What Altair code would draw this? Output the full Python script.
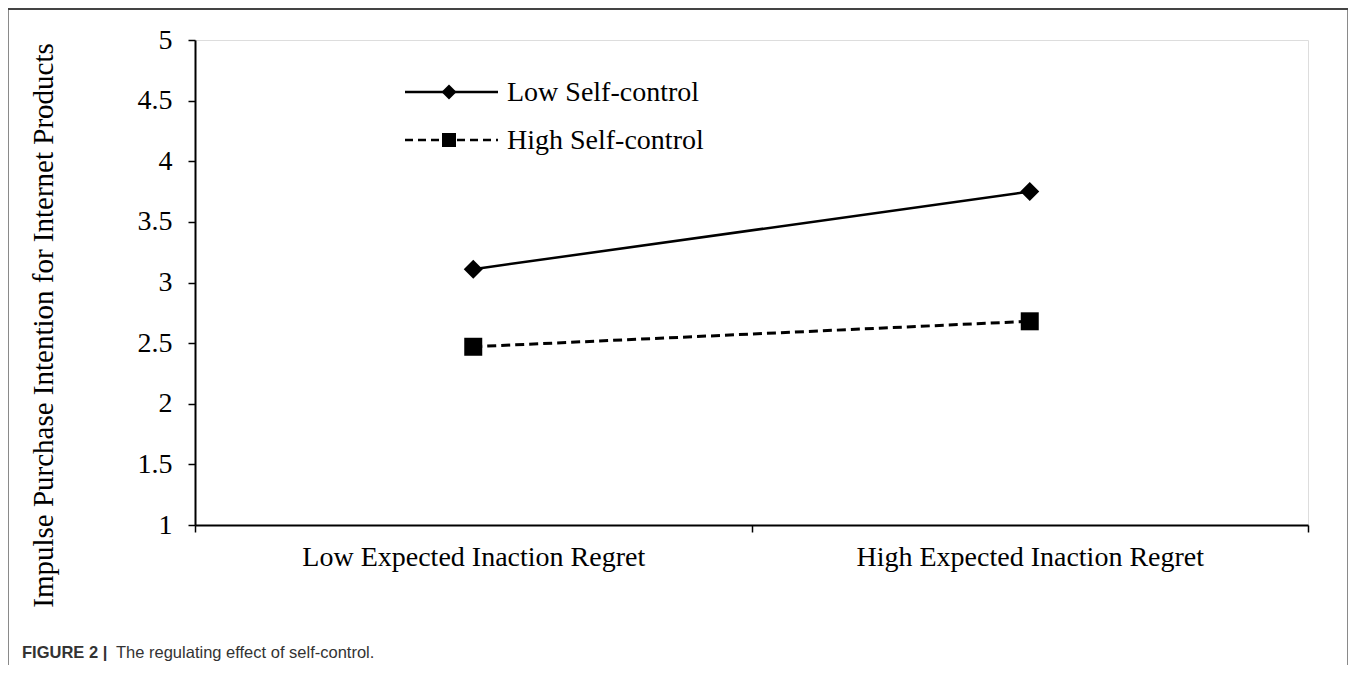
import altair as alt
import pandas as pd

categories = ["Low Expected Inaction Regret", "High Expected Inaction Regret"]
series = ["Low Self-control", "High Self-control"]
low_values = [3.11, 3.75]
high_values = [2.47, 2.68]
y_ticks = [1, 1.5, 2, 2.5, 3, 3.5, 4, 4.5, 5]
y_title = "Impulse Purchase Intention for Internet Products"
caption_bold = "FIGURE 2 |"
caption_text = "The regulating effect of self-control."

rows = []
for i, c in enumerate(categories):
    rows.append({"cat": c, "pos": i + 0.5, "series": series[0], "value": low_values[i]})
    rows.append({"cat": c, "pos": i + 0.5, "series": series[1], "value": high_values[i]})
df = pd.DataFrame(rows)

SERIF = "Liberation Serif"
FS = 28

label_expr = " : ".join(
    [f"datum.value == {i + 0.5} ? '{c}'" for i, c in enumerate(categories)] + ["''"]
)

x_enc = alt.X(
    "pos:Q",
    scale=alt.Scale(domain=[0, len(categories)], nice=False, zero=False),
    axis=alt.Axis(
        values=[0, 0.5, 1, 1.5, 2],
        labelExpr=label_expr,
        title=None,
        grid=False,
        domainColor="black",
        domainWidth=2,
        tickColor="black",
        tickWidth=1.5,
        tickSize=7,
        tickOpacity={"condition": {"test": "datum.value % 1 != 0", "value": 0}, "value": 1},
        labelFont=SERIF,
        labelFontSize=FS,
        labelColor="black",
        labelPadding=11,
        labelLimit=1000,
        labelOverlap=False,
        labelFlush=False,
    ),
)
y_enc = alt.Y(
    "value:Q",
    scale=alt.Scale(domain=[1, 5], nice=False, zero=False),
    axis=alt.Axis(
        values=y_ticks,
        format="~g",
        title=y_title,
        titleFont=SERIF,
        titleFontSize=29,
        titleFontWeight="normal",
        titleColor="black",
        titleX=-152,
        titleY=285,
        titleAngle=270,
        titleAlign="center",
        titleBaseline="middle",
        titleLimit=1000,
        grid=False,
        domainColor="black",
        domainWidth=2,
        tickColor="black",
        tickWidth=1.5,
        tickSize=7,
        labelFont=SERIF,
        labelFontSize=FS,
        labelColor="black",
        labelPadding=16,
    ),
)

base = alt.Chart(df)
low_df = base.transform_filter(alt.datum.series == series[0])
high_df = base.transform_filter(alt.datum.series == series[1])

line_low = low_df.mark_line(color="black", strokeWidth=2.5).encode(x=x_enc, y=y_enc)
line_high = high_df.mark_line(color="black", strokeWidth=3, strokeDash=[9, 5]).encode(x=x_enc, y=y_enc)
pt_low = low_df.mark_point(shape="diamond", filled=True, color="black", size=361, opacity=1).encode(x=x_enc, y=y_enc)
pt_high = high_df.mark_point(shape="square", filled=True, color="black", size=324, opacity=1).encode(x=x_enc, y=y_enc)

# legend (decoration, pixel positions relative to plot area)
one = alt.Chart(pd.DataFrame({"a": [0]}))
leg = []
for k, (name, dash, shape, size) in enumerate(
    [(series[0], [1, 0], "diamond", 225), (series[1], [8, 5], "square", 196)]
):
    yy = 52 + k * 48
    leg.append(one.mark_rule(color="black", strokeWidth=2.5, strokeDash=dash).encode(
        x=alt.value(210), x2=alt.value(303), y=alt.value(yy)))
    leg.append(one.mark_point(shape=shape, filled=True, color="black", size=size, opacity=1).encode(
        x=alt.value(254), y=alt.value(yy)))
    leg.append(one.mark_text(text=name, font=SERIF, fontSize=FS, align="left", baseline="middle", color="black").encode(
        x=alt.value(312), y=alt.value(yy + 1)))

# figure frame and caption
frame = one.mark_rect(fill="transparent", stroke="#8a8a8a", strokeWidth=2).encode(
    x=alt.value(-187), x2=alt.value(1153), y=alt.value(-31), y2=alt.value(700))
top_edge = one.mark_rule(color="#444444", strokeWidth=2).encode(
    x=alt.value(-187), x2=alt.value(1153), y=alt.value(-31))
cap1 = one.mark_text(text=caption_bold, font="Liberation Sans", fontSize=16.5, fontWeight="bold",
                     align="left", baseline="alphabetic", color="#333333").encode(
    x=alt.value(-173), y=alt.value(618))
cap2 = one.mark_text(text=caption_text, font="Liberation Sans", fontSize=16.5,
                     align="left", baseline="alphabetic", color="#333333").encode(
    x=alt.value(-79), y=alt.value(618))

chart = alt.layer(
    frame, top_edge, line_low, line_high, pt_low, pt_high, *leg, cap1, cap2
).properties(
    width=1113,
    height=485,
    autosize=alt.AutoSizeParams(type="none"),
    padding={"left": 187, "top": 32, "right": 40, "bottom": 140},
).configure_view(stroke=None).configure(background="white")

chart.save("out.html", embed_options={"renderer": "svg", "actions": False})
